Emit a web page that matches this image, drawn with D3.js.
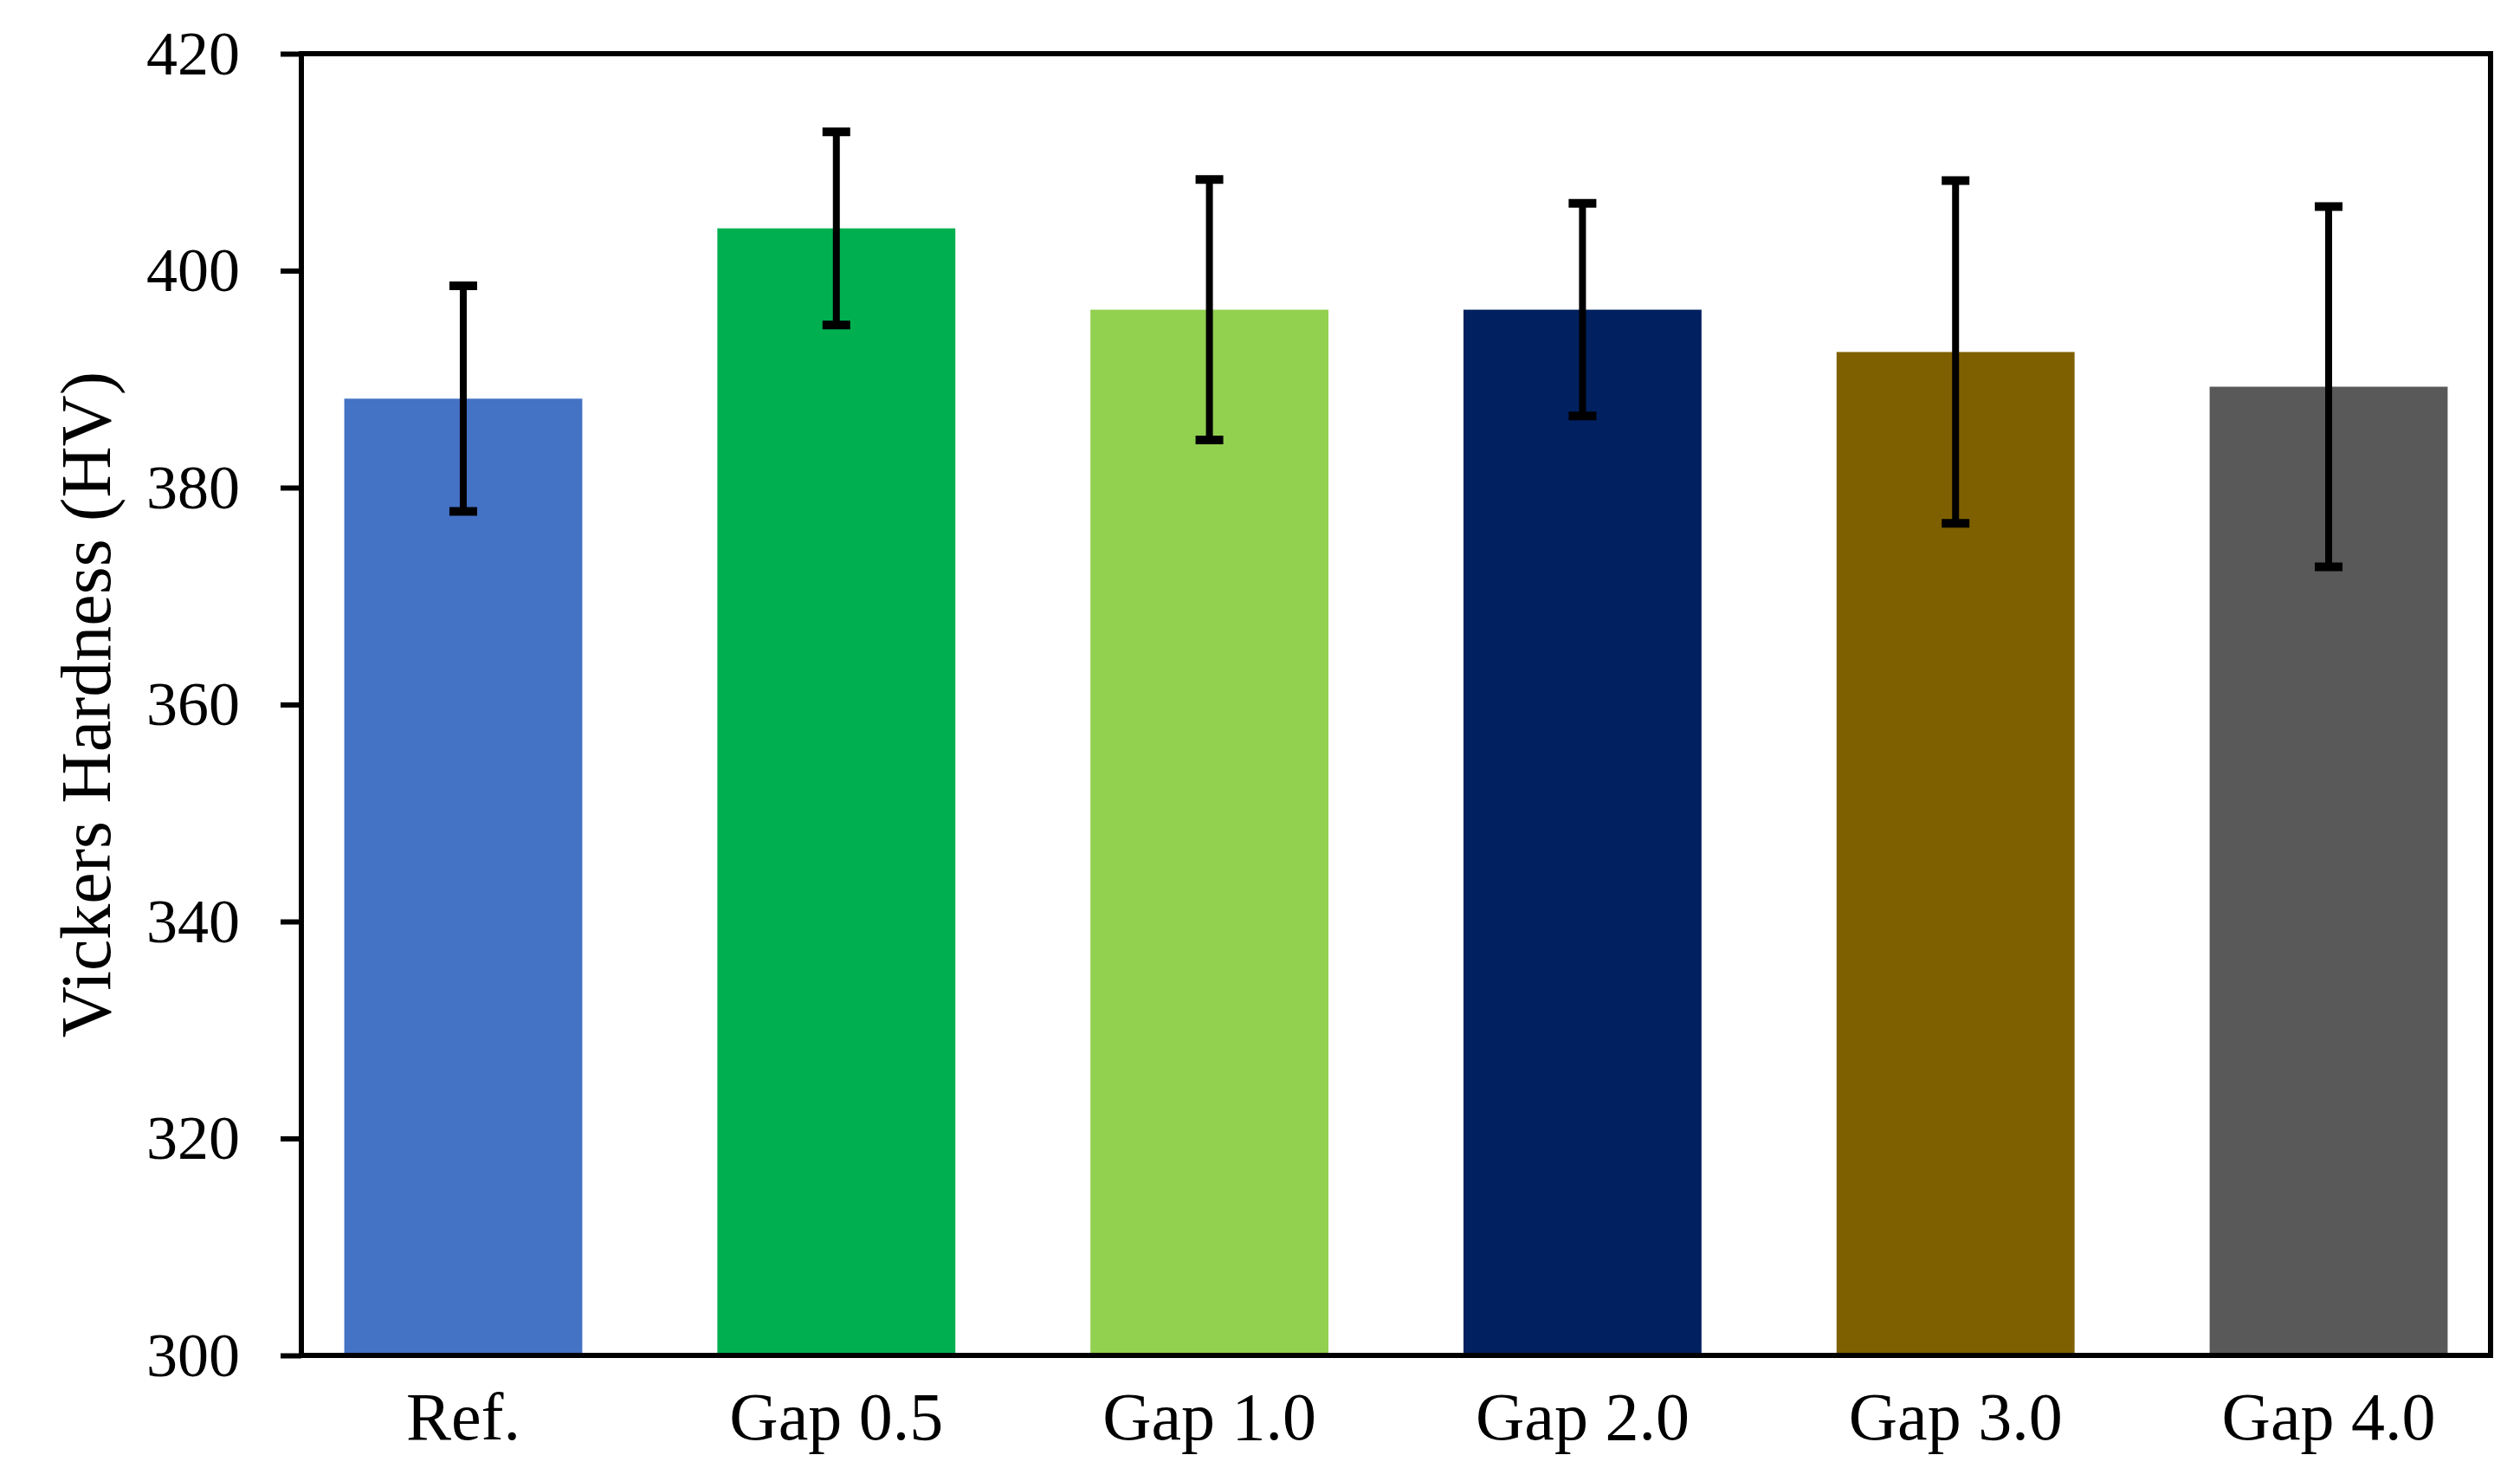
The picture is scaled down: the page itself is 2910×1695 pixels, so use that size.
<!DOCTYPE html>
<html>
<head>
<meta charset="utf-8">
<script src="https://cdn.jsdelivr.net/npm/d3@7"></script>
<style>
  html, body { margin: 0; padding: 0; background: #fff; }
  svg { display: block; }
</style>
</head>
<body>
<script>
// ---- data ----
const categories = ["Ref.", "Gap 0.5", "Gap 1.0", "Gap 2.0", "Gap 3.0", "Gap 4.0"];
const hardness   = [388.2, 403.9, 396.4, 396.4, 392.5, 389.3];
const errors     = [10.4, 8.9, 12.0, 9.8, 15.8, 16.6];
const barColors  = ["#4472C4", "#00B050", "#92D050", "#002060", "#7F6000", "#595959"];
const yTicks     = [300, 320, 340, 360, 380, 400, 420];
const yTitle     = "Vickers Hardness (HV)";

// ---- layout ----
const W = 2910, H = 1695;
const box = { left: 348, right: 2876, top: 62, bottom: 1565 };
const font = "'Liberation Serif', 'Times New Roman', serif";

const svg = d3.select("body").append("svg")
  .attr("width", W).attr("height", H)
  .attr("viewBox", `0 0 ${W} ${H}`);

const x = d3.scaleBand()
  .domain(categories)
  .range([box.left, box.right])
  .paddingInner(0.362)
  .paddingOuter(0.115);

const y = d3.scaleLinear()
  .domain([300, 420])
  .range([box.bottom, box.top]);

const data = categories.map((c, i) => ({ cat: c, v: hardness[i], e: errors[i], color: barColors[i] }));

// bars
svg.append("g").selectAll("rect").data(data).join("rect")
  .attr("x", d => x(d.cat))
  .attr("width", x.bandwidth())
  .attr("y", d => y(d.v))
  .attr("height", d => y(300) - y(d.v))
  .attr("fill", d => d.color);

// error bars
const eg = svg.append("g").attr("stroke", "#000");
const cx = d => x(d.cat) + x.bandwidth() / 2;
eg.selectAll("line.v").data(data).join("line").attr("class", "v")
  .attr("x1", cx).attr("x2", cx)
  .attr("y1", d => y(d.v + d.e)).attr("y2", d => y(d.v - d.e))
  .attr("stroke-width", 8);
eg.selectAll("line.t").data(data).join("line").attr("class", "t")
  .attr("x1", d => cx(d) - 16).attr("x2", d => cx(d) + 16)
  .attr("y1", d => y(d.v + d.e)).attr("y2", d => y(d.v + d.e))
  .attr("stroke-width", 10);
eg.selectAll("line.b").data(data).join("line").attr("class", "b")
  .attr("x1", d => cx(d) - 16).attr("x2", d => cx(d) + 16)
  .attr("y1", d => y(d.v - d.e)).attr("y2", d => y(d.v - d.e))
  .attr("stroke-width", 10);

// plot frame
svg.append("rect")
  .attr("x", box.left).attr("y", box.top)
  .attr("width", box.right - box.left).attr("height", box.bottom - box.top)
  .attr("fill", "none").attr("stroke", "#000").attr("stroke-width", 6);

// y axis
const yAxis = svg.append("g")
  .attr("transform", `translate(${box.left},0)`)
  .call(d3.axisLeft(y).tickValues(yTicks).tickSize(24).tickPadding(47).tickFormat(d3.format("d")));
yAxis.select(".domain").remove();
yAxis.selectAll(".tick line").attr("stroke", "#000").attr("stroke-width", 6);
yAxis.selectAll(".tick text")
  .attr("font-family", font).attr("font-size", 72).attr("fill", "#000");

// x axis labels
const xAxis = svg.append("g")
  .attr("transform", `translate(0,${box.bottom})`)
  .call(d3.axisBottom(x).tickSize(0).tickPadding(0));
xAxis.select(".domain").remove();
xAxis.selectAll(".tick text")
  .attr("font-family", font).attr("font-size", 78).attr("fill", "#000")
  .attr("dy", null).attr("y", 97);

// y title
svg.append("text")
  .attr("transform", `translate(127,${(box.top + box.bottom) / 2}) rotate(-90)`)
  .attr("text-anchor", "middle")
  .attr("font-family", font).attr("font-size", 82).attr("fill", "#000")
  .text(yTitle);
</script>
</body>
</html>
